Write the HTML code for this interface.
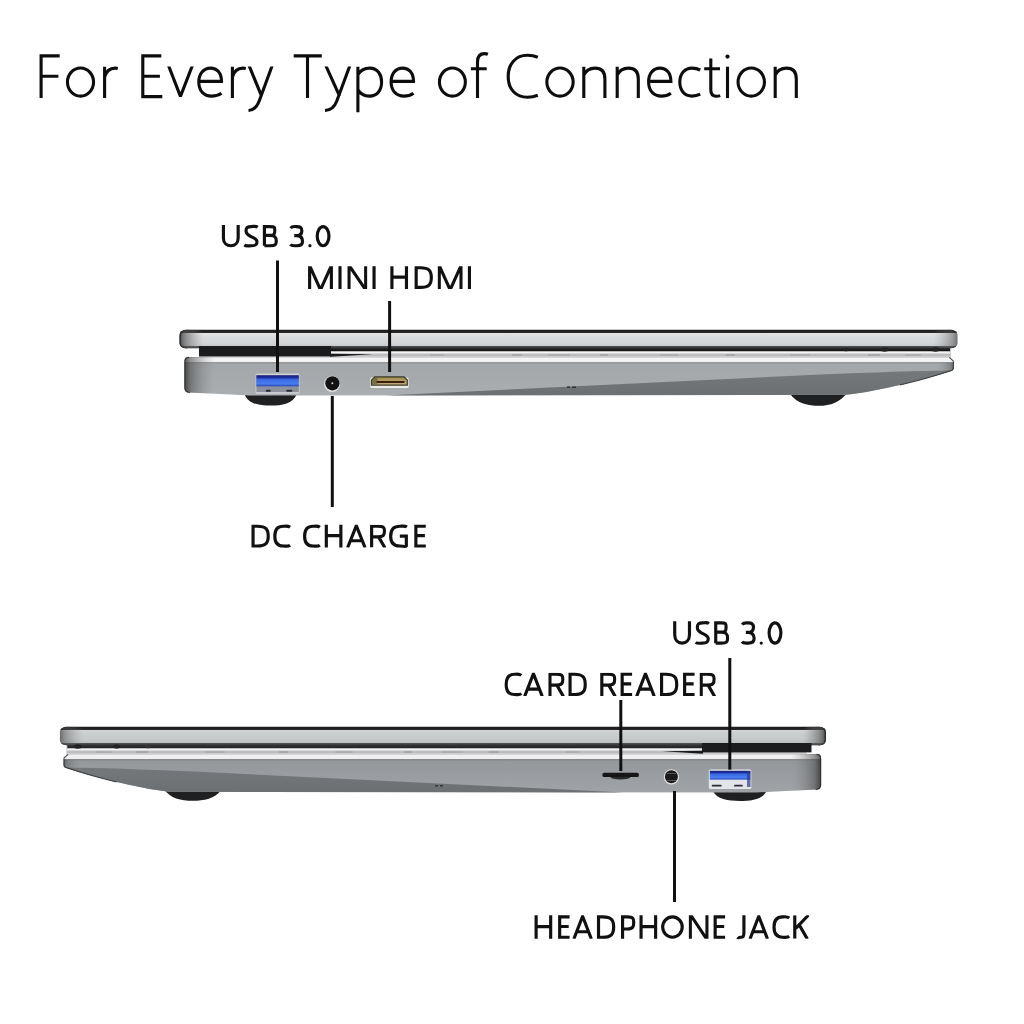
<!DOCTYPE html>
<html><head><meta charset="utf-8"><style>
html,body{margin:0;padding:0;background:#fff;width:1024px;height:1024px;overflow:hidden}
svg{display:block;position:absolute;left:0;top:0}
text{font-family:"Liberation Sans",sans-serif}
</style></head><body>
<svg width="1024" height="1024" viewBox="0 0 1024 1024">
<defs>
<linearGradient id="endL" x1="0" y1="0" x2="1" y2="0">
  <stop offset="0" stop-color="#1a1a1a" stop-opacity="1"/>
  <stop offset="0.2" stop-color="#505050" stop-opacity="0.85"/>
  <stop offset="1" stop-color="#909090" stop-opacity="0"/>
</linearGradient>
<linearGradient id="endR" x1="1" y1="0" x2="0" y2="0">
  <stop offset="0" stop-color="#1a1a1a" stop-opacity="1"/>
  <stop offset="0.2" stop-color="#505050" stop-opacity="0.85"/>
  <stop offset="1" stop-color="#909090" stop-opacity="0"/>
</linearGradient>
<linearGradient id="usbBlue" x1="0" y1="0" x2="0" y2="1">
  <stop offset="0" stop-color="#161e72"/>
  <stop offset="0.2" stop-color="#1c2ea0"/>
  <stop offset="0.38" stop-color="#3a6ae2"/>
  <stop offset="0.78" stop-color="#4a7ef0"/>
  <stop offset="1" stop-color="#2444b4"/>
</linearGradient>
<linearGradient id="gold" x1="0" y1="0" x2="0" y2="1">
  <stop offset="0" stop-color="#9c8a50"/>
  <stop offset="0.5" stop-color="#b89e68"/>
  <stop offset="1" stop-color="#c4ab7a"/>
</linearGradient>
<linearGradient id="lidVA" x1="0" y1="0" x2="0" y2="1">
  <stop offset="0" stop-color="#1a1a1a"/><stop offset="0.15" stop-color="#262626"/>
  <stop offset="0.185" stop-color="#e2e4e6"/><stop offset="0.35" stop-color="#dadcde"/>
  <stop offset="0.7" stop-color="#d3d6d8"/><stop offset="0.86" stop-color="#c9cccf"/>
  <stop offset="0.885" stop-color="#505356"/><stop offset="1" stop-color="#2e3032"/>
</linearGradient>
<linearGradient id="baseVA" x1="0" y1="0" x2="0" y2="1">
  <stop offset="0" stop-color="#d4d5d6"/><stop offset="0.028" stop-color="#d4d5d6"/><stop offset="0.036" stop-color="#f4f4f4"/><stop offset="0.132" stop-color="#f2f2f3"/>
  <stop offset="0.142" stop-color="#95999c"/><stop offset="0.162" stop-color="#95999c"/><stop offset="0.178" stop-color="#a3a7aa"/>
  <stop offset="0.6" stop-color="#a6aaad"/><stop offset="1" stop-color="#abaeb1"/>
</linearGradient>
<linearGradient id="gapdA" x1="0" y1="0" x2="0" y2="1">
  <stop offset="0" stop-color="#46494c"/><stop offset="0.45" stop-color="#26282a"/><stop offset="1" stop-color="#0c0c0c"/>
</linearGradient>
<linearGradient id="wedgeA" x1="0" y1="0" x2="0" y2="1">
  <stop offset="0" stop-color="#74787b"/><stop offset="1" stop-color="#6c7073"/>
</linearGradient>
<linearGradient id="lidVB" x1="0" y1="0" x2="0" y2="1">
  <stop offset="0" stop-color="#1a1a1a"/><stop offset="0.15" stop-color="#262626"/>
  <stop offset="0.185" stop-color="#d4d7d8"/><stop offset="0.35" stop-color="#cbcecf"/>
  <stop offset="0.7" stop-color="#c5c9ca"/><stop offset="0.86" stop-color="#bcc0c1"/>
  <stop offset="0.885" stop-color="#54575a"/><stop offset="1" stop-color="#2e3032"/>
</linearGradient>
<linearGradient id="baseVB" x1="0" y1="0" x2="0" y2="1">
  <stop offset="0" stop-color="#d4d5d6"/><stop offset="0.028" stop-color="#d4d5d6"/><stop offset="0.036" stop-color="#f0f0f0"/><stop offset="0.132" stop-color="#eeeeef"/>
  <stop offset="0.142" stop-color="#85898c"/><stop offset="0.162" stop-color="#85898c"/><stop offset="0.178" stop-color="#94989b"/>
  <stop offset="0.6" stop-color="#9a9ea2"/><stop offset="1" stop-color="#a0a3a6"/>
</linearGradient>
<linearGradient id="gapdB" x1="0" y1="0" x2="0" y2="1">
  <stop offset="0" stop-color="#4a4d50"/><stop offset="0.45" stop-color="#303234"/><stop offset="1" stop-color="#1e2022"/>
</linearGradient>
<linearGradient id="wedgeB" x1="0" y1="0" x2="0" y2="1">
  <stop offset="0" stop-color="#74787b"/><stop offset="1" stop-color="#6c7073"/>
</linearGradient>
</defs>
<defs><g id="bodyA">
  <rect x="199" y="346" width="752" height="12" fill="#cbcbcd"/>
  <rect x="199" y="346" width="751" height="5.4" fill="url(#gapdA)"/>
  <rect x="199" y="351.5" width="751" height="1.8" fill="#f4f4f4"/>
  <rect x="331" y="354.6" width="619" height="0.9" fill="#a8a8aa" opacity="0.8"/>
  <path d="M430,354.4 h14 v1.2 h-14 z M512,354.3 h10 v1.4 h-10 z M548,354.5 h22 v1 h-22 z M600,354.3 h8 v1.4 h-8 z M660,354.4 h18 v1.2 h-18 z M726,354.3 h9 v1.5 h-9 z M790,354.5 h20 v1 h-20 z M868,354.3 h12 v1.4 h-12 z M905,354.4 h16 v1.2 h-16 z" fill="#808082" opacity="0.45"/>
  <path d="M188,357 L949.5,357 L953.7,361 L953.7,368.6 L952.5,370.4 C930,378 880,391 846,394.8 L250,395.4 L190,392.5 Q184.5,392 184.5,388 L184.5,361 Q184.5,357 188,357 Z" fill="url(#baseVA)"/>
  <path d="M385,395.4 L820,374.6 Q900,371 952.5,370.4 C930,378 880,391 846,394.8 Z" fill="url(#wedgeA)"/>
  <path d="M188,357 L215,357 L215,394 L190,392.5 Q184.5,392 184.5,388 L184.5,361 Q184.5,357 188,357 Z" fill="url(#endL)" opacity="0.7"/>
  <path d="M189,357.3 Q184.9,357.4 184.9,361.5 L184.9,388 Q184.9,392.2 190,392.6" fill="none" stroke="#2a2b2c" stroke-width="1.2" opacity="0.8"/>
  <path d="M936,362.6 L953.7,362.6 L953.7,368.6 L952.5,370.4 L936,375.9 Z" fill="url(#endR)" opacity="0.45"/>
  <path d="M949.3,357.3 L953.4,361.1 L953.4,368.6 L952.2,370.3 C935,376 915,381.6 900,385" fill="none" stroke="#2a2b2c" stroke-width="1.1" opacity="0.8"/>
  <rect x="179.5" y="329.8" width="778" height="18.5" rx="7" ry="4.8" fill="url(#lidVA)"/>
  <path d="M188,330.4 Q180.2,330.6 180.2,336 L180.2,342.5 Q180.2,347.7 187,347.8" fill="none" stroke="#1e1e1e" stroke-width="1.3" opacity="0.85"/>
  <rect x="179.5" y="329.8" width="24" height="18.5" rx="7" ry="4.8" fill="url(#endL)" opacity="0.75"/>
  <rect x="933.5" y="329.8" width="24" height="18.5" rx="7" ry="4.8" fill="url(#endR)" opacity="0.55"/>
</g>
<g id="bodyB">
  <rect x="199" y="346" width="752" height="12" fill="#cbcbcd"/>
  <rect x="199" y="346" width="751" height="5.4" fill="url(#gapdB)"/>
  <rect x="199" y="351.5" width="751" height="1.8" fill="#f4f4f4"/>
  <rect x="331" y="354.6" width="619" height="0.9" fill="#a8a8aa" opacity="0.8"/>
  <path d="M430,354.4 h14 v1.2 h-14 z M512,354.3 h10 v1.4 h-10 z M548,354.5 h22 v1 h-22 z M600,354.3 h8 v1.4 h-8 z M660,354.4 h18 v1.2 h-18 z M726,354.3 h9 v1.5 h-9 z M790,354.5 h20 v1 h-20 z M868,354.3 h12 v1.4 h-12 z M905,354.4 h16 v1.2 h-16 z" fill="#808082" opacity="0.45"/>
  <path d="M188,357 L949.5,357 L953.7,361 L953.7,368.6 L952.5,370.4 C930,378 880,391 846,394.8 L250,395.4 L190,392.5 Q184.5,392 184.5,388 L184.5,361 Q184.5,357 188,357 Z" fill="url(#baseVB)"/>
  <path d="M385,395.4 L820,374.6 Q900,371 952.5,370.4 C930,378 880,391 846,394.8 Z" fill="url(#wedgeB)"/>
  <path d="M188,357 L215,357 L215,394 L190,392.5 Q184.5,392 184.5,388 L184.5,361 Q184.5,357 188,357 Z" fill="url(#endL)" opacity="0.7"/>
  <path d="M189,357.3 Q184.9,357.4 184.9,361.5 L184.9,388 Q184.9,392.2 190,392.6" fill="none" stroke="#2a2b2c" stroke-width="1.2" opacity="0.8"/>
  <path d="M936,362.6 L953.7,362.6 L953.7,368.6 L952.5,370.4 L936,375.9 Z" fill="url(#endR)" opacity="0.45"/>
  <path d="M949.3,357.3 L953.4,361.1 L953.4,368.6 L952.2,370.3 C935,376 915,381.6 900,385" fill="none" stroke="#2a2b2c" stroke-width="1.1" opacity="0.8"/>
  <rect x="179.5" y="329.8" width="778" height="18.5" rx="7" ry="4.8" fill="url(#lidVB)"/>
  <path d="M188,330.4 Q180.2,330.6 180.2,336 L180.2,342.5 Q180.2,347.7 187,347.8" fill="none" stroke="#1e1e1e" stroke-width="1.3" opacity="0.85"/>
  <rect x="179.5" y="329.8" width="24" height="18.5" rx="7" ry="4.8" fill="url(#endL)" opacity="0.75"/>
  <rect x="933.5" y="329.8" width="24" height="18.5" rx="7" ry="4.8" fill="url(#endR)" opacity="0.55"/>
</g></defs>
<g id="top">
  <path d="M244.5,394 C248,404 259,405.6 270.5,405.6 C282,405.6 293,404 296.8,394 Z" fill="#1f2021"/>
  <path d="M790.5,394.5 C797,403.5 808,405.8 819,405.8 C830,405.8 841,402.5 848,391.5 Z" fill="#1f2021"/>
  <use href="#bodyA"/>
  <rect x="199" y="346" width="132" height="10.4" fill="#1a1b1c"/>
  <path d="M330,353.8 L373,354.3 L330,356.8 Z" fill="#1a1b1c"/>
  <ellipse cx="846" cy="349.5" rx="3" ry="1.8" fill="#222"/>
  <ellipse cx="884.5" cy="349.5" rx="4" ry="2.2" fill="#222"/>
  <ellipse cx="935.5" cy="349.5" rx="4" ry="2.2" fill="#222"/>
  <rect x="255.6" y="373.6" width="43.9" height="20.2" rx="1.5" fill="#cfd1d4"/>
  <rect x="256.4" y="375.3" width="42.4" height="16.8" fill="#8c909c"/>
  <rect x="256.4" y="375.3" width="42.4" height="11" fill="url(#usbBlue)"/>
  <rect x="265.8" y="389.8" width="5" height="2" rx="1" fill="#2a2c34"/>
  <rect x="286.3" y="389.8" width="6" height="2" rx="1" fill="#2a2c34"/>
  <circle cx="332.1" cy="383.9" r="8.1" fill="#dfe0e2"/>
  <circle cx="332.4" cy="383.3" r="7.1" fill="#121212"/>
  <circle cx="332.4" cy="383.2" r="1.0" fill="#d8d8d8"/>
  <rect x="370.2" y="377.5" width="38.4" height="10.6" rx="1.5" fill="#ececec"/>
  <path d="M374.5,376.2 L404.3,376.2 L407.9,379.7 L407.9,385.8 L370.9,385.8 L370.9,379.7 Z" fill="#3b3a24"/>
  <path d="M375.2,377.4 L403.7,377.4 L406.7,380.2 L406.7,384.6 L372.1,384.6 L372.1,380.2 Z" fill="url(#gold)"/>
  <path d="M375.2,377.4 L377.5,377.4 L377.5,384.6 L372.1,384.6 L372.1,380.2 Z" fill="#6b6840" opacity="0.85"/>
  <rect x="376.5" y="381.1" width="28.3" height="1.9" rx="0.9" fill="#3a1c08"/>
  <rect x="567" y="386.5" width="3" height="1.5" fill="#333"/>
  <rect x="572" y="386.5" width="4" height="1.5" fill="#333"/>
</g>
<g id="bottom">
  <path d="M164,789 C170,798.5 181,800.8 192.5,800.8 C204,800.8 215,798.5 220.8,790.5 Z" fill="#1f2021"/>
  <path d="M712.8,790.5 C716.5,799.5 728,800.9 739.8,800.9 C751.5,800.9 763,799.5 766.8,790.5 Z" fill="#1f2021"/>
  <use href="#bodyB" transform="matrix(-0.9846,0,0,1,1002.7,397)"/>
  <rect x="702" y="743" width="109.5" height="9.4" fill="#1c1d1e"/>
  <path d="M703,750.8 L662,751.3 L703,753.8 Z" fill="#1a1b1c"/>
  <ellipse cx="77.8" cy="746.5" rx="4" ry="2.2" fill="#222"/>
  <ellipse cx="116.6" cy="746.5" rx="3.5" ry="2" fill="#222"/>
  <ellipse cx="148" cy="746.5" rx="3" ry="1.8" fill="#333"/>
  <ellipse cx="620.4" cy="777" rx="10" ry="2.6" fill="#2a2a2a"/>
  <rect x="602.3" y="772.7" width="36.7" height="4.4" rx="2.2" fill="#161616"/>
  <circle cx="671.4" cy="776.9" r="7.6" fill="#e2e3e4"/>
  <circle cx="671.4" cy="776.7" r="6.5" fill="#1a1a1a"/>
  <rect x="667" y="773" width="9" height="1" fill="#555"/>
  <rect x="667" y="780" width="9" height="1" fill="#555"/>
  <rect x="708.8" y="769.6" width="42.5" height="19.3" rx="1.5" fill="#e4e5ea"/>
  <rect x="709.8" y="770.8" width="40.5" height="8.8" fill="url(#usbBlue)"/>
  <rect x="711.7" y="784.8" width="10" height="1.8" rx="0.9" fill="#2a2c34"/>
  <rect x="734" y="784.8" width="8.8" height="1.8" rx="0.9" fill="#2a2c34"/>
  <rect x="747" y="771" width="3.5" height="16" fill="#2b3a8a" opacity="0.7"/>
  <rect x="435" y="785" width="3" height="1.5" fill="#333"/>
  <rect x="440" y="785" width="3" height="1.5" fill="#333"/>
</g>
<clipPath id="xh"><rect x="0" y="66.6" width="1024" height="60"/></clipPath>
<g fill="none" stroke="#0d0d0d" stroke-width="3.1" stroke-linecap="butt" stroke-linejoin="miter">
<!-- F -->
<path d="M41.1,98.1 V55.85 H59.7 M41.1,76.3 H58.4"/>
<!-- o -->
<ellipse cx="80.5" cy="82.1" rx="13.05" ry="14.05"/>
<!-- r -->
<path d="M104.6,66.7 V98.1 M104.6,77 C106.3,71 110,68.1 115,68.1 C116,68.1 117,68.2 117.8,68.4"/>
<!-- E -->
<path d="M162.3,96.65 H142.8 V55.85 H161.3 M142.8,76.2 H159.9"/>
<!-- v -->
<path clip-path="url(#xh)" stroke-linejoin="bevel" d="M168.1,64.5 L180.45,96.4 L192.8,64.5"/>
<!-- e -->
<path d="M198.8,81.4 H221.5 C221.5,73 217,68.1 210.5,68.1 C203.5,68.1 198.8,74 198.8,82 C198.8,91 204,96.1 211.5,96.1 C215.5,96.1 218.8,95 221.5,93.2"/>
<!-- r -->
<path d="M232.4,66.7 V98.1 M232.4,77 C234.1,71 237.8,68.1 242.8,68.1 C243.8,68.1 244.8,68.2 245.8,68.4"/>
<!-- y -->
<path clip-path="url(#xh)" d="M248.6,64.5 L261.6,96.2 M272.6,64.5 L259.2,101 C256.8,107.4 254,110.3 248.5,110.5"/>
<!-- T -->
<path d="M293.7,55.85 H321.8 M307.5,55.85 V98.1"/>
<!-- y -->
<path clip-path="url(#xh)" d="M325.3,64.5 L339.6,96.2 M350.3,64.5 L336.8,101 C334.4,107.4 331.3,110.3 325,110.5"/>
<!-- p -->
<path d="M357.9,66.7 V112.2 M358,74.5 C360.5,70.2 364.8,68.1 370,68.1 C377.5,68.1 381.6,74.5 381.6,82 C381.6,90.5 377,96.1 369.5,96.1 C364.5,96.1 360.3,94 358,89.8"/>
<!-- e -->
<path d="M391.1,81.4 H413.5 C413.5,73 409,68.1 402.5,68.1 C395.5,68.1 391.1,74 391.1,82 C391.1,91 396.5,96.1 404,96.1 C408,96.1 411,95 413.5,93.2"/>
<!-- o -->
<ellipse cx="452.4" cy="82.1" rx="12.95" ry="14.05"/>
<!-- f -->
<path d="M477.5,98.1 V62 C477.5,56.2 480.3,53.6 484.5,53.6 C485.8,53.6 486.9,53.9 487.9,54.3 M470.9,68.7 H486.7"/>
<!-- C -->
<path d="M537.8,57.3 C534.5,55.9 531,55.3 527.5,55.3 C515.5,55.3 508.2,64 508.2,76.4 C508.2,89.5 516,97.2 527.5,97.2 C531,97.2 534.5,96.6 537.8,95.2"/>
<!-- o -->
<ellipse cx="560" cy="82.1" rx="13.15" ry="14.05"/>
<!-- n -->
<path d="M583.8,66.7 V98.1 M583.8,75 C586,70.5 590,68.1 595,68.1 C601.5,68.1 604.9,72 604.9,79 V98.1"/>
<path d="M617.2,66.7 V98.1 M617.2,75 C619.4,70.5 623.4,68.1 628.4,68.1 C634.9,68.1 638.3,72 638.3,79 V98.1"/>
<!-- e -->
<path d="M648.6,81.4 H670.9 C670.9,73 666.4,68.1 659.9,68.1 C652.9,68.1 648.6,74 648.6,82 C648.6,91 653.9,96.1 661.4,96.1 C665.4,96.1 668.4,95 670.9,93.2"/>
<!-- c -->
<path d="M700.2,70 C697.7,68.7 695,68.1 692,68.1 C684.5,68.1 679.8,74 679.8,82.1 C679.8,90.5 684.5,96.1 692,96.1 C695,96.1 697.7,95.5 700.2,94.2"/>
<!-- t -->
<path d="M710.8,58.5 V90 C710.8,94.5 713,96.3 716.5,96.3 C718,96.3 719.2,96 720.2,95.6 M704.2,68.7 H720"/>
<!-- i -->
<path d="M727.5,66.7 V98.1"/>
<!-- o -->
<ellipse cx="751.25" cy="82.1" rx="13.2" ry="14.05"/>
<!-- n -->
<path d="M775.2,66.7 V98.1 M775.2,75 C777.4,70.5 781.4,68.1 786.4,68.1 C792.9,68.1 796.3,72 796.3,79 V98.1"/>
</g>
<circle cx="727.5" cy="56.6" r="2.1" fill="#0d0d0d"/>

<g fill="none" stroke="#111" stroke-width="3.15" stroke-linecap="butt" stroke-linejoin="miter" stroke-miterlimit="10">
<path transform="translate(221.85,225.00)" d="M 1.57 0.00 V 12.93 C 1.57 17.84 4.83 20.73 8.95 20.73 C 13.07 20.73 16.32 17.84 16.32 12.93 V 0.00"/>
<path transform="translate(244.15,225.00)" d="M 13.50 2.23 C 11.52 0.67 9.50 1.57 7.20 1.57 C 3.17 1.57 1.88 2.68 1.88 6.02 C 1.88 9.59 4.61 10.48 7.49 11.82 C 10.94 13.38 12.83 14.72 12.83 16.73 C 12.83 20.07 10.94 20.73 6.91 20.73 C 4.32 20.73 2.02 21.52 0.20 20.07"/>
<path transform="translate(262.85,225.00)" d="M 1.57 20.73 V 1.57 H 6.90 C 12.00 1.57 11.93 2.23 11.93 5.46 C 11.93 8.70 11.70 10.37 6.90 10.37 H 1.57 M 6.90 10.37 C 12.60 10.37 13.43 12.49 13.43 16.06 C 13.43 19.85 12.60 20.73 7.20 20.73 H 1.57"/>
<path transform="translate(290.00,225.00)" d="M 0.56 3.12 C 2.11 1.00 4.23 1.57 6.63 1.57 C 10.01 1.57 11.83 2.23 11.83 5.91 C 11.83 9.14 9.87 10.59 6.34 10.59 H 4.23 M 6.34 10.59 C 10.57 10.59 12.53 13.16 12.53 16.39 C 12.53 19.74 10.57 20.73 6.63 20.73 C 4.23 20.73 1.83 21.30 0.28 19.51"/>
<g transform="translate(307.95,225.00)"><circle cx="2.00" cy="20.70" r="1.6" fill="#111" stroke="none"/></g>
<g transform="translate(315.65,225.00)"><ellipse cx="7.45" cy="11.15" rx="5.88" ry="9.58" fill="none" stroke="#111" stroke-width="3.15"/></g>
<clipPath id="c1"><rect x="307.75" y="266.20" width="25.50" height="22.80"/></clipPath>
<g clip-path="url(#c1)"><path transform="translate(308.05,266.20)" d="M 1.57 23.80 V -0.50 L 12.45 23.60 L 23.32 -0.50 V 23.80"/></g>
<path transform="translate(338.43,266.20)" d="M 1.57 0.00 V 22.80"/>
<clipPath id="c2"><rect x="347.15" y="266.20" width="20.40" height="22.80"/></clipPath>
<g clip-path="url(#c2)"><path transform="translate(347.45,266.20)" d="M 1.57 23.80 V -0.80 L 18.23 23.60 V -1.00"/></g>
<path transform="translate(372.48,266.20)" d="M 1.57 0.00 V 22.80"/>
<path transform="translate(390.35,266.20)" d="M 1.57 0.00 V 22.80 M 16.12 0.00 V 22.80 M 1.57 10.94 H 16.12"/>
<path transform="translate(414.60,266.20)" d="M 1.57 1.57 H 5.86 C 14.27 1.57 16.73 4.56 16.73 11.40 C 16.73 18.24 14.27 21.23 5.86 21.23 H 1.57 Z"/>
<clipPath id="c3"><rect x="437.40" y="266.20" width="25.50" height="22.80"/></clipPath>
<g clip-path="url(#c3)"><path transform="translate(437.70,266.20)" d="M 1.57 23.80 V -0.50 L 12.45 23.60 L 23.32 -0.50 V 23.80"/></g>
<path transform="translate(467.88,266.20)" d="M 1.57 0.00 V 22.80"/>
<path transform="translate(251.50,524.70)" d="M 1.57 1.57 H 5.86 C 14.27 1.57 16.73 4.58 16.73 11.45 C 16.73 18.32 14.27 21.32 5.86 21.32 H 1.57 Z"/>
<path transform="translate(273.25,524.70)" d="M 16.80 2.63 C 14.62 0.92 12.04 1.57 9.98 1.57 C 4.30 1.57 1.57 5.04 1.57 11.45 C 1.57 18.09 4.30 21.32 9.98 21.32 C 12.38 21.32 14.79 22.10 16.80 20.50"/>
<path transform="translate(303.05,524.70)" d="M 16.80 2.63 C 14.62 0.92 12.04 1.57 9.98 1.57 C 4.30 1.57 1.57 5.04 1.57 11.45 C 1.57 18.09 4.30 21.32 9.98 21.32 C 12.38 21.32 14.79 22.10 16.80 20.50"/>
<path transform="translate(324.75,524.70)" d="M 1.57 0.00 V 22.90 M 16.12 0.00 V 22.90 M 1.57 10.99 H 16.12"/>
<clipPath id="c4"><rect x="345.55" y="524.70" width="21.60" height="22.90"/></clipPath>
<g clip-path="url(#c4)"><path transform="translate(345.85,524.70)" d="M 1.72 23.10 L 10.50 1.00 L 19.28 23.10 M 4.62 16.03 H 16.38"/></g>
<clipPath id="c5"><rect x="369.75" y="524.70" width="16.90" height="22.90"/></clipPath>
<g clip-path="url(#c5)"><path transform="translate(370.05,524.70)" d="M 1.57 22.90 V 1.57 H 7.50 C 13.69 1.57 14.43 2.52 14.43 6.30 C 14.43 10.08 13.69 12.14 7.50 12.14 H 1.57 M 8.48 12.14 L 15.04 23.40"/></g>
<path transform="translate(389.10,524.70)" d="M 17.80 2.29 C 15.79 0.80 13.54 1.57 10.72 1.57 C 4.32 1.57 1.57 5.50 1.57 11.45 C 1.57 18.09 4.32 21.32 10.72 21.32 C 13.72 21.32 16.36 22.33 17.23 21.30 V 11.45 H 10.72"/>
<path transform="translate(414.30,524.70)" d="M 11.50 1.57 H 1.57 V 21.32 H 11.50 M 1.57 10.88 H 10.60"/>
<path transform="translate(504.60,672.70)" d="M 16.80 2.69 C 14.62 0.94 12.04 1.57 9.98 1.57 C 4.30 1.57 1.57 5.15 1.57 11.70 C 1.57 18.49 4.30 21.82 9.98 21.82 C 12.38 21.82 14.79 22.58 16.80 20.94"/>
<clipPath id="c6"><rect x="522.65" y="672.70" width="21.60" height="23.40"/></clipPath>
<g clip-path="url(#c6)"><path transform="translate(522.95,672.70)" d="M 1.72 23.60 L 10.50 1.00 L 19.28 23.60 M 4.62 16.38 H 16.38"/></g>
<clipPath id="c7"><rect x="548.10" y="672.70" width="16.90" height="23.40"/></clipPath>
<g clip-path="url(#c7)"><path transform="translate(548.40,672.70)" d="M 1.57 23.40 V 1.57 H 7.50 C 13.69 1.57 14.43 2.57 14.43 6.43 C 14.43 10.30 13.69 12.40 7.50 12.40 H 1.57 M 8.48 12.40 L 15.04 23.90"/></g>
<path transform="translate(568.50,672.70)" d="M 1.57 1.57 H 5.86 C 14.27 1.57 16.73 4.68 16.73 11.70 C 16.73 18.72 14.27 21.82 5.86 21.82 H 1.57 Z"/>
<clipPath id="c8"><rect x="599.95" y="672.70" width="16.90" height="23.40"/></clipPath>
<g clip-path="url(#c8)"><path transform="translate(600.25,672.70)" d="M 1.57 23.40 V 1.57 H 7.50 C 13.69 1.57 14.43 2.57 14.43 6.43 C 14.43 10.30 13.69 12.40 7.50 12.40 H 1.57 M 8.48 12.40 L 15.04 23.90"/></g>
<path transform="translate(620.60,672.70)" d="M 11.50 1.57 H 1.57 V 21.82 H 11.50 M 1.57 11.11 H 10.60"/>
<clipPath id="c9"><rect x="634.65" y="672.70" width="21.60" height="23.40"/></clipPath>
<g clip-path="url(#c9)"><path transform="translate(634.95,672.70)" d="M 1.72 23.60 L 10.50 1.00 L 19.28 23.60 M 4.62 16.38 H 16.38"/></g>
<path transform="translate(660.00,672.70)" d="M 1.57 1.57 H 5.86 C 14.27 1.57 16.73 4.68 16.73 11.70 C 16.73 18.72 14.27 21.82 5.86 21.82 H 1.57 Z"/>
<path transform="translate(683.05,672.70)" d="M 11.50 1.57 H 1.57 V 21.82 H 11.50 M 1.57 11.11 H 10.60"/>
<clipPath id="c10"><rect x="699.35" y="672.70" width="16.90" height="23.40"/></clipPath>
<g clip-path="url(#c10)"><path transform="translate(699.65,672.70)" d="M 1.57 23.40 V 1.57 H 7.50 C 13.69 1.57 14.43 2.57 14.43 6.43 C 14.43 10.30 13.69 12.40 7.50 12.40 H 1.57 M 8.48 12.40 L 15.04 23.90"/></g>
<path transform="translate(673.15,621.30)" d="M 1.57 0.00 V 13.57 C 1.57 18.72 4.83 21.83 8.95 21.83 C 13.07 21.83 16.32 18.72 16.32 13.57 V 0.00"/>
<path transform="translate(695.45,621.30)" d="M 13.50 2.34 C 11.52 0.70 9.50 1.57 7.20 1.57 C 3.17 1.57 1.88 2.81 1.88 6.32 C 1.88 10.06 4.61 11.00 7.49 12.40 C 10.94 14.04 12.83 15.44 12.83 17.55 C 12.83 21.06 10.94 21.83 6.91 21.83 C 4.32 21.83 2.02 22.58 0.20 21.06"/>
<path transform="translate(714.15,621.30)" d="M 1.57 21.83 V 1.57 H 6.90 C 12.00 1.57 11.93 2.34 11.93 5.73 C 11.93 9.13 11.70 10.88 6.90 10.88 H 1.57 M 6.90 10.88 C 12.60 10.88 13.43 13.10 13.43 16.85 C 13.43 20.83 12.60 21.83 7.20 21.83 H 1.57"/>
<path transform="translate(741.60,621.30)" d="M 0.56 3.28 C 2.11 1.05 4.23 1.57 6.63 1.57 C 10.01 1.57 11.83 2.34 11.83 6.20 C 11.83 9.59 9.87 11.12 6.34 11.12 H 4.23 M 6.34 11.12 C 10.57 11.12 12.53 13.81 12.53 17.20 C 12.53 20.71 10.57 21.83 6.63 21.83 C 4.23 21.83 1.83 22.35 0.28 20.48"/>
<g transform="translate(759.25,621.30)"><circle cx="2.00" cy="21.80" r="1.6" fill="#111" stroke="none"/></g>
<g transform="translate(767.55,621.30)"><ellipse cx="7.45" cy="11.70" rx="5.88" ry="10.13" fill="none" stroke="#111" stroke-width="3.15"/></g>
<path transform="translate(534.55,915.30)" d="M 1.57 0.00 V 23.50 M 16.12 0.00 V 23.50 M 1.57 11.28 H 16.12"/>
<path transform="translate(558.10,915.30)" d="M 11.50 1.57 H 1.57 V 21.93 H 11.50 M 1.57 11.16 H 10.60"/>
<clipPath id="c11"><rect x="571.80" y="915.30" width="21.60" height="23.50"/></clipPath>
<g clip-path="url(#c11)"><path transform="translate(572.10,915.30)" d="M 1.72 23.70 L 10.50 1.00 L 19.28 23.70 M 4.62 16.45 H 16.38"/></g>
<path transform="translate(596.95,915.30)" d="M 1.57 1.57 H 5.86 C 14.27 1.57 16.73 4.70 16.73 11.75 C 16.73 18.80 14.27 21.93 5.86 21.93 H 1.57 Z"/>
<path transform="translate(621.00,915.30)" d="M 1.57 23.50 V 1.57 H 6.44 C 12.01 1.57 12.73 2.82 12.73 7.05 C 12.73 11.28 12.01 13.75 6.44 13.75 H 1.57"/>
<path transform="translate(639.50,915.30)" d="M 1.57 0.00 V 23.50 M 16.12 0.00 V 23.50 M 1.57 11.28 H 16.12"/>
<g transform="translate(661.10,915.30)"><ellipse cx="11.35" cy="11.75" rx="9.78" ry="10.18" fill="none" stroke="#111" stroke-width="3.15"/></g>
<clipPath id="c12"><rect x="688.45" y="915.30" width="20.40" height="23.50"/></clipPath>
<g clip-path="url(#c12)"><path transform="translate(688.75,915.30)" d="M 1.57 24.50 V -0.80 L 18.23 24.30 V -1.00"/></g>
<path transform="translate(713.60,915.30)" d="M 11.50 1.57 H 1.57 V 21.93 H 11.50 M 1.57 11.16 H 10.60"/>
<path transform="translate(736.90,915.30)" d="M 7.02 0.00 V 16.92 C 7.02 21.62 6.19 21.93 3.87 21.93 C 2.58 21.93 1.29 22.91 0.43 22.09"/>
<clipPath id="c13"><rect x="747.95" y="915.30" width="21.60" height="23.50"/></clipPath>
<g clip-path="url(#c13)"><path transform="translate(748.25,915.30)" d="M 1.72 23.70 L 10.50 1.00 L 19.28 23.70 M 4.62 16.45 H 16.38"/></g>
<path transform="translate(772.45,915.30)" d="M 16.80 2.70 C 14.62 0.94 12.04 1.57 9.98 1.57 C 4.30 1.57 1.57 5.17 1.57 11.75 C 1.57 18.57 4.30 21.93 9.98 21.93 C 12.38 21.93 14.79 22.68 16.80 21.03"/>
<clipPath id="c14"><rect x="792.90" y="915.30" width="16.20" height="23.50"/></clipPath>
<g clip-path="url(#c14)"><path transform="translate(793.20,915.30)" d="M 1.57 0.00 V 23.50 M 15.40 -0.30 L 2.52 13.16 M 6.24 9.87 L 14.18 23.80"/></g>
</g>
<rect x="276.0" y="260.5" width="3" height="111.5" fill="#111"/>
<rect x="388.1" y="301" width="3" height="71" fill="#111"/>
<rect x="330.8" y="396" width="3" height="111" fill="#111"/>
<rect x="619.3" y="700" width="3" height="71" fill="#111"/>
<rect x="728.3" y="658" width="3" height="111.60000000000002" fill="#111"/>
<rect x="673.0" y="791" width="3" height="111" fill="#111"/>
</svg>
</body></html>
